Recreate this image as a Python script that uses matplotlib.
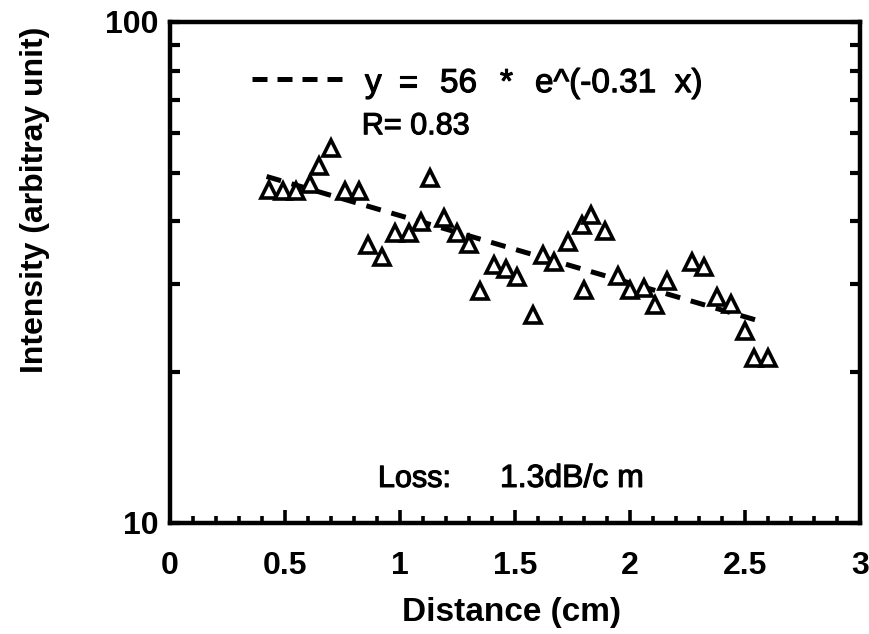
import matplotlib
matplotlib.use("Agg")
import matplotlib.pyplot as plt
import matplotlib.patheffects as pe
from matplotlib.ticker import FixedLocator, NullFormatter
import numpy as np

# measured points (distance in cm, intensity arbitrary unit)
distance = [0.43, 0.49, 0.55, 0.61, 0.65, 0.70, 0.76, 0.82, 0.86, 0.92,
            0.98, 1.04, 1.09, 1.13, 1.19, 1.25, 1.30, 1.35, 1.41, 1.46,
            1.51, 1.58, 1.62, 1.67, 1.73, 1.79, 1.80, 1.83, 1.89, 1.95,
            2.00, 2.06, 2.11, 2.16, 2.27, 2.32, 2.38, 2.44, 2.50, 2.54,
            2.60]
intensity = [46.2, 46.0, 45.9, 47.4, 51.7, 56.1, 45.9, 45.9, 35.9, 34.0,
             37.9, 37.9, 39.9, 48.8, 40.7, 38.0, 36.1, 29.0, 32.8, 32.1,
             31.0, 26.0, 34.3, 33.2, 36.4, 39.3, 29.2, 41.2, 38.3, 31.1,
             29.2, 29.4, 27.2, 30.4, 33.2, 32.5, 28.3, 27.3, 24.2, 21.3,
             21.3]

# exponential fit given in the chart
fit_a = 56
fit_b = -0.31
fit_start, fit_end = 0.42, 2.56

xticks = [0, 0.5, 1, 1.5, 2, 2.5, 3]
xticklabels = ['0', '0.5', '1', '1.5', '2', '2.5', '3']

plt.rcParams['font.family'] = ['Liberation Sans', 'DejaVu Sans']

fig = plt.figure(figsize=(8.69, 6.34), dpi=100)
ax = fig.add_axes([0.1956, 0.1751, 0.794, 0.7902])

fit_x = np.linspace(fit_start, fit_end, 60)
ax.plot(fit_x, fit_a * np.exp(fit_b * fit_x), color='black', lw=3.6,
        dashes=(3.0, 2.2), dash_capstyle='butt')
ax.plot(distance, intensity, linestyle='none', marker='^', ms=12,
        mfc='white', mec='black', mew=2.6)

ax.set_yscale('log')
ax.set_xlim(0, 3)
ax.set_ylim(10, 100)

ax.yaxis.set_major_locator(FixedLocator([10, 100]))
ax.yaxis.set_minor_locator(FixedLocator([20, 30, 40, 50, 60, 70, 80, 90]))
ax.yaxis.set_minor_formatter(NullFormatter())
ax.set_yticklabels(['10', '100'])
ax.xaxis.set_major_locator(FixedLocator(xticks))
ax.xaxis.set_minor_locator(FixedLocator(np.arange(0.1, 3.0, 0.1)))
ax.set_xticklabels(xticklabels)

ax.tick_params(axis='y', which='both', direction='in', left=True, right=True,
               length=7.5, width=3, labelsize=23, pad=8)
ax.tick_params(axis='x', which='major', direction='in', top=False,
               length=9.5, width=2.6, labelsize=23, pad=20)
ax.tick_params(axis='x', which='minor', direction='in', top=False,
               length=5, width=2.6)
for lab in ax.get_xticklabels() + ax.get_yticklabels():
    lab.set_fontweight('bold')
for sp in ax.spines.values():
    sp.set_linewidth(3.2)

# the scanned text is a bit heavier than plain regular weight
thick = [pe.withStroke(linewidth=0.8, foreground='black')]

# legend-like annotation
ax.plot([0.119, 0.254], [0.886, 0.886], transform=ax.transAxes, color='black',
        lw=3.6, dashes=(3.0, 2.0), dash_capstyle='butt')
eq_parts = [('y', 0.2826), ('=', 0.3304), ('56', 0.3913), ('*', 0.4783),
            ('e^(-0.31  x)', 0.5290)]
for s, xpos in eq_parts:
    ax.text(xpos, 0.860, s, transform=ax.transAxes, fontsize=24,
            va='baseline', ha='left', path_effects=thick)
ax.text(0.278, 0.776, 'R= 0.83', transform=ax.transAxes,
        fontsize=22, va='baseline', ha='left', path_effects=thick)
ax.text(0.3014, 0.072, 'Loss:', transform=ax.transAxes,
        fontsize=22, va='baseline', ha='left', path_effects=thick)
ax.text(0.4783, 0.072, '1.3dB/c m', transform=ax.transAxes,
        fontsize=23, va='baseline', ha='left', path_effects=thick)

fig.text(35 / 869, 1 - 200 / 634, 'Intensity (arbitray unit)', rotation=90,
         ha='center', va='center', fontsize=23, fontweight='bold')
fig.text(511 / 869, 1 - 613 / 634, 'Distance (cm)', ha='center', va='center',
         fontsize=24, fontweight='bold')

fig.savefig('out.png', dpi=100)
